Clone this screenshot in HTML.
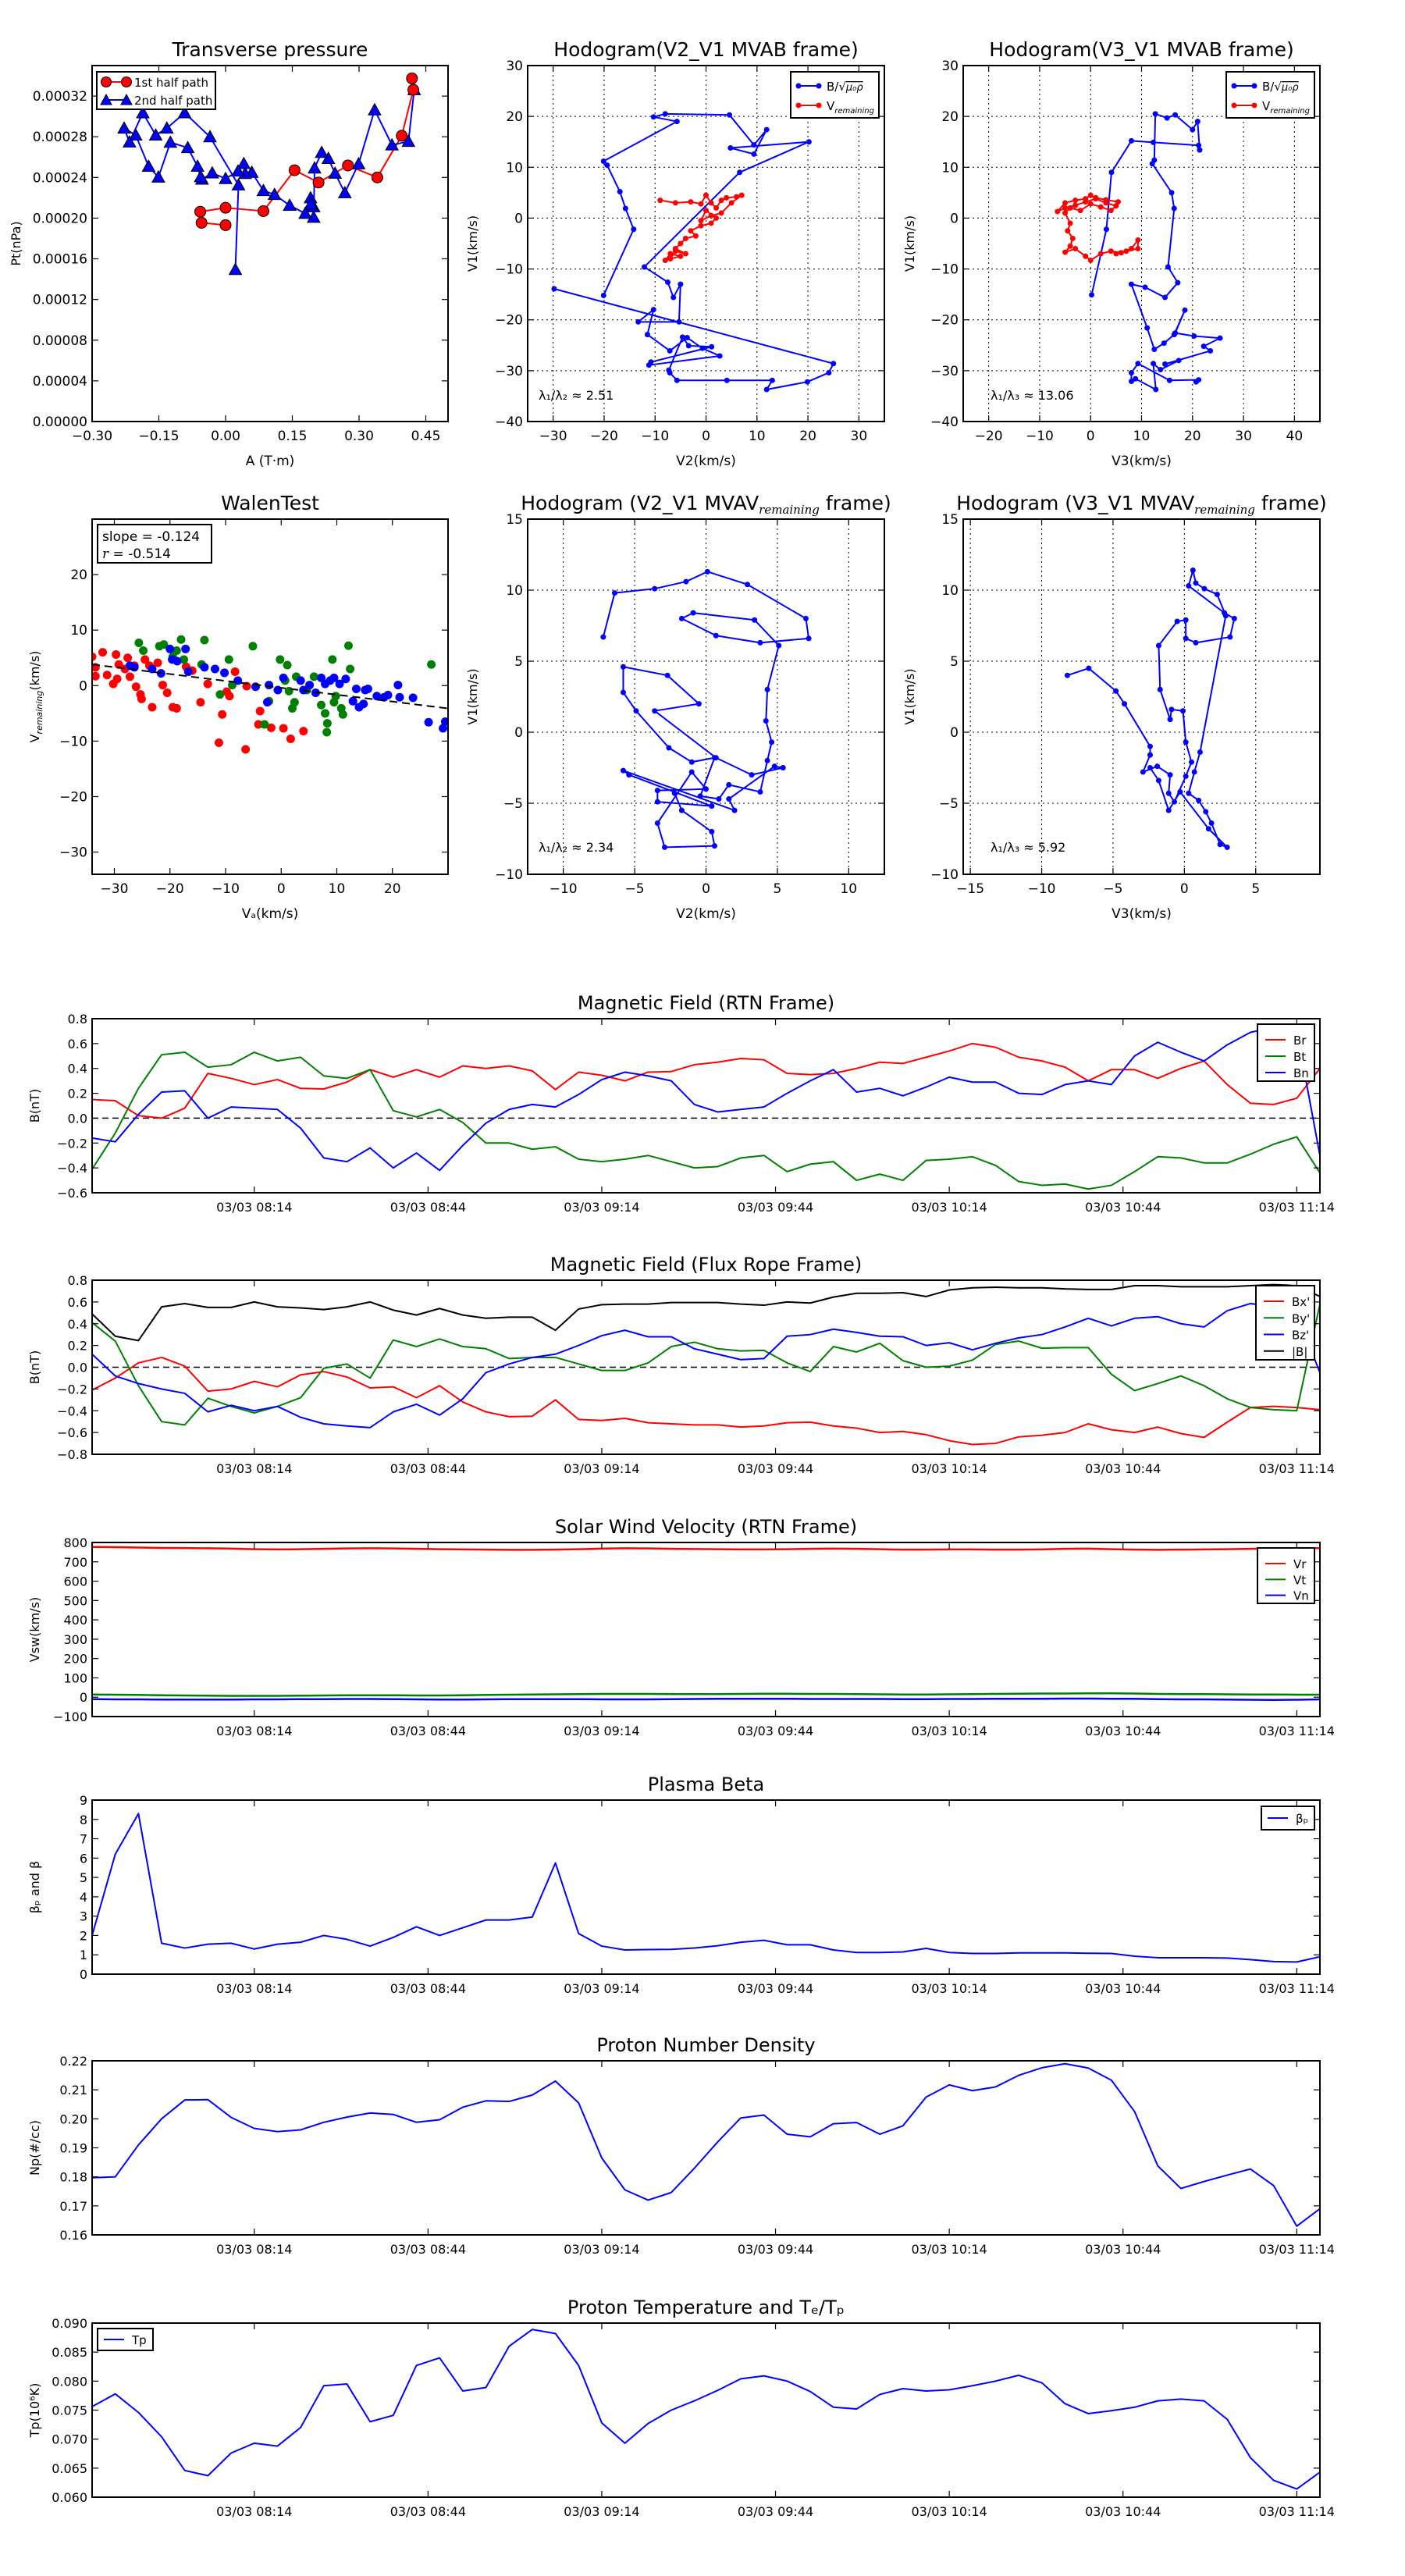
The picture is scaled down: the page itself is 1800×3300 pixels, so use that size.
<!DOCTYPE html>
<html><head><meta charset="utf-8"><style>
html,body{margin:0;padding:0;background:#fff;}
svg{display:block;font-family:"DejaVu Sans","Liberation Sans",sans-serif;}
</style></head><body>
<svg id="fig" xmlns="http://www.w3.org/2000/svg" width="1800" height="3300" viewBox="0 0 1800 3300"></svg>
<script>
// ---------- DATA ----------
const timeLabels=["03/03 08:14","03/03 08:44","03/03 09:14","03/03 09:44","03/03 10:14","03/03 10:44","03/03 11:14"];
const timeTickIdx=[7,14.5,22,29.5,37,44.5,52];
const Br=[0.15,0.14,0.02,0.0,0.08,0.36,0.32,0.27,0.31,0.24,0.235,0.29,0.39,0.33,0.39,0.33,0.42,0.40,0.42,0.38,0.23,0.37,0.345,0.30,0.37,0.375,0.43,0.45,0.48,0.47,0.36,0.35,0.36,0.40,0.45,0.44,0.49,0.54,0.60,0.57,0.49,0.46,0.41,0.30,0.39,0.39,0.32,0.40,0.46,0.27,0.12,0.11,0.16,0.40];
const Bt=[-0.41,-0.12,0.24,0.51,0.53,0.41,0.43,0.53,0.46,0.49,0.34,0.32,0.39,0.06,0.01,0.07,-0.035,-0.20,-0.20,-0.25,-0.23,-0.33,-0.35,-0.33,-0.30,-0.35,-0.40,-0.39,-0.32,-0.30,-0.43,-0.37,-0.35,-0.50,-0.45,-0.50,-0.34,-0.33,-0.31,-0.38,-0.51,-0.54,-0.53,-0.57,-0.54,-0.43,-0.31,-0.32,-0.36,-0.36,-0.29,-0.21,-0.15,-0.44];
const Bn=[-0.16,-0.19,0.03,0.21,0.22,0.0,0.09,0.08,0.07,-0.08,-0.32,-0.35,-0.24,-0.40,-0.28,-0.42,-0.22,-0.04,0.07,0.11,0.09,0.19,0.31,0.37,0.34,0.30,0.11,0.05,0.07,0.09,0.20,0.30,0.39,0.21,0.24,0.18,0.25,0.33,0.29,0.29,0.20,0.19,0.27,0.30,0.27,0.50,0.61,0.53,0.46,0.59,0.69,0.73,0.70,-0.30];
const Bx=[-0.21,-0.10,0.04,0.09,0.01,-0.22,-0.20,-0.13,-0.18,-0.07,-0.04,-0.09,-0.19,-0.18,-0.28,-0.17,-0.32,-0.41,-0.455,-0.45,-0.30,-0.48,-0.49,-0.47,-0.51,-0.52,-0.53,-0.53,-0.55,-0.54,-0.51,-0.505,-0.54,-0.56,-0.60,-0.59,-0.62,-0.675,-0.71,-0.70,-0.64,-0.625,-0.60,-0.52,-0.575,-0.60,-0.55,-0.61,-0.645,-0.505,-0.37,-0.36,-0.37,-0.39];
const By=[0.41,0.24,-0.17,-0.50,-0.53,-0.285,-0.36,-0.42,-0.36,-0.28,-0.01,0.03,-0.10,0.25,0.19,0.26,0.19,0.17,0.08,0.09,0.09,0.03,-0.03,-0.03,0.04,0.19,0.23,0.17,0.15,0.155,0.04,-0.04,0.19,0.14,0.22,0.06,0.0,0.01,0.065,0.21,0.24,0.175,0.18,0.18,-0.065,-0.215,-0.15,-0.08,-0.17,-0.29,-0.37,-0.39,-0.40,0.58];
const Bz=[0.12,-0.08,-0.15,-0.20,-0.24,-0.41,-0.35,-0.40,-0.36,-0.46,-0.52,-0.54,-0.555,-0.41,-0.34,-0.44,-0.29,-0.05,0.03,0.09,0.12,0.20,0.29,0.34,0.28,0.28,0.17,0.12,0.07,0.08,0.285,0.30,0.35,0.32,0.285,0.28,0.20,0.225,0.16,0.22,0.27,0.30,0.37,0.45,0.38,0.45,0.465,0.40,0.37,0.52,0.585,0.56,0.50,-0.05];
const Bmag=[0.49,0.285,0.245,0.555,0.585,0.55,0.55,0.60,0.555,0.545,0.53,0.555,0.60,0.525,0.48,0.54,0.48,0.45,0.46,0.46,0.34,0.535,0.575,0.58,0.58,0.595,0.595,0.595,0.58,0.57,0.60,0.59,0.645,0.68,0.68,0.685,0.65,0.71,0.73,0.735,0.73,0.73,0.72,0.715,0.715,0.75,0.75,0.74,0.74,0.74,0.75,0.76,0.75,0.65];
const Vr=[777,776,774,772,771,770,768,765,764,765,767,769,770,769,767,765,764,763,762,762,763,765,768,770,769,767,766,765,764,764,765,767,768,767,765,763,763,764,764,763,763,764,767,768,765,763,762,763,764,765,767,769,771,770];
const Vt=[14,13,12,10,9,8,7,7,7,8,9,10,10,10,9,9,10,12,13,14,15,16,17,17,17,16,16,16,17,18,18,17,17,16,15,14,14,15,16,17,18,19,19,20,20,19,17,16,16,15,14,14,13,13];
const Vn=[-10,-11,-11,-12,-12,-12,-12,-11,-11,-10,-10,-9,-9,-10,-11,-12,-12,-11,-10,-10,-10,-10,-11,-11,-11,-10,-9,-8,-8,-8,-8,-9,-9,-9,-9,-10,-10,-9,-9,-8,-8,-8,-7,-7,-8,-8,-10,-11,-11,-12,-13,-14,-13,-11];
const beta=[2.0,6.2,8.3,1.6,1.35,1.55,1.6,1.3,1.55,1.65,2.0,1.8,1.45,1.9,2.45,2.0,2.4,2.8,2.8,2.95,5.75,2.1,1.45,1.25,1.27,1.28,1.35,1.47,1.65,1.75,1.52,1.52,1.25,1.12,1.12,1.15,1.33,1.12,1.07,1.07,1.1,1.1,1.1,1.08,1.07,0.93,0.85,0.85,0.85,0.83,0.75,0.65,0.63,0.9];
const Np=[0.1797,0.180,0.191,0.200,0.2065,0.2066,0.2005,0.1967,0.1956,0.1962,0.1988,0.2006,0.202,0.2015,0.1988,0.1997,0.204,0.2062,0.206,0.2082,0.213,0.2055,0.1865,0.1755,0.172,0.1746,0.183,0.192,0.2003,0.2013,0.1947,0.1938,0.1983,0.1987,0.1947,0.1976,0.2075,0.2117,0.2097,0.211,0.215,0.2176,0.219,0.2175,0.2133,0.2025,0.1838,0.176,0.1784,0.1806,0.1827,0.177,0.163,0.169];
const Tp=[0.0756,0.0778,0.0746,0.0704,0.0646,0.0637,0.0676,0.0693,0.0688,0.0720,0.0792,0.0795,0.0730,0.0741,0.0827,0.0840,0.0783,0.0789,0.0860,0.0889,0.0882,0.0827,0.0728,0.0693,0.0727,0.0750,0.0766,0.0784,0.0804,0.0809,0.0800,0.0782,0.0755,0.0752,0.0777,0.0787,0.0783,0.0785,0.0792,0.0800,0.0810,0.0797,0.0761,0.0744,0.0749,0.0755,0.0766,0.0769,0.0766,0.0734,0.0668,0.0629,0.0614,0.0643];
// Transverse pressure (A in T·m, Pt in 1e-4 nPa)
const pt1A=[0.419,0.422,0.396,0.341,0.275,0.209,0.155,0.085,0.000,-0.057,-0.054,0.000];
const pt1P=[3.374,3.262,2.810,2.400,2.518,2.350,2.471,2.069,2.102,2.063,1.954,1.931];
const pt2A=[0.424,0.411,0.374,0.335,0.299,0.268,0.246,0.231,0.216,0.200,0.198,0.198,0.191,0.192,0.179,0.144,0.110,0.085,0.059,0.044,0.041,0.028,0.000,-0.030,-0.053,-0.056,-0.063,-0.085,-0.124,-0.151,-0.173,-0.202,-0.228,-0.216,-0.186,-0.157,-0.132,-0.092,-0.035,0.029,0.022];
const pt2P=[3.262,2.754,2.719,3.064,2.533,2.249,2.441,2.586,2.645,2.492,2.007,2.111,2.199,2.140,2.046,2.125,2.232,2.270,2.450,2.438,2.536,2.462,2.388,2.444,2.382,2.406,2.509,2.692,2.745,2.403,2.509,2.816,2.884,2.748,3.035,2.816,2.884,3.035,2.799,2.326,1.494];
// Hodogram V2-V1 MVAB
const h2Bx=[-20.1,-14.2,-15.8,-16.9,-19.4,-20.1,-5.7,-10.3,-8.0,4.6,9.4,11.9,9.4,4.8,20.2,6.6,-12.1,-7.5,-6.4,-5.0,-5.3,-13.3,-10.3,-11.5,-7.1,-3.7,-0.7,2.7,-11.2,-10.8,1.1,-3.4,-4.6,-7.3,-7.1,-5.7,4.1,13.0,11.9,19.9,24.1,25.0,-29.8];
const h2By=[-15.2,-2.2,1.9,5.2,10.4,11.2,19.0,19.9,20.5,20.3,14.4,17.4,12.6,13.8,15.0,9.0,-9.6,-12.6,-15.6,-13.0,-20.4,-20.4,-18.0,-22.9,-26.1,-23.5,-25.6,-27.1,-28.9,-28.3,-25.3,-25.1,-23.4,-29.9,-30.4,-31.9,-31.9,-31.9,-33.7,-32.2,-30.4,-28.6,-13.9];
const h2Vx=[-9,-6,-3,-1,0,1,2,3,4,6,7,5,3,1,-1,0,2,1,-1,-3,-2,-4,-5,-6,-4,-6,-7,-5,-7,-8];
const h2Vy=[3.5,3,3.2,2.8,4.5,3,2,3.5,4,4.2,4.5,3,1,0.5,-0.5,1.5,0,-1,-1.5,-2.5,-3.5,-4,-5,-6,-7,-6.5,-8,-7.5,-7,-8.3];
// Hodogram V3-V1 MVAB
const h3Bx=[0.2,3.1,4.1,8.0,12.3,21.2,21.4,21.0,20.0,16.6,15.0,12.7,12.5,12.1,15.9,16.4,15.2,17.1,14.6,10.7,8.0,11.1,12.5,14.4,16.4,18.5,16.6,20.3,25.4,22.2,23.5,14.6,17.3,13.7,12.3,12.8,8.8,8.0,8.0,9.3,15.5,21.2,20.7];
const h3By=[-15.1,-2.2,9.0,15.2,14.9,14.3,13.4,19.0,17.4,20.3,19.7,20.5,11.4,10.7,5.0,1.9,-9.6,-12.7,-15.6,-13.6,-13.0,-21.6,-25.8,-24.6,-22.9,-18.1,-22.6,-23.2,-23.6,-25.2,-26.1,-28.7,-28.0,-29.8,-28.6,-33.7,-31.6,-32.1,-30.4,-28.6,-31.9,-31.8,-32.2];
const h3Vx=[5.4,3,1,0,-1,-3,-5,-6.5,-5,-3,-1,1,3,5,4,2,0,-2,-4,-5,-4,-4.5,-3.5,-4,-5,-3,-1,0,2,4,6,8,9.3,9.3,7,5];
const h3Vy=[3.2,3.6,4.0,4.5,3.8,3.5,3.0,1.3,2.0,2.5,3.2,3.8,3.0,2.4,1.5,2.2,2.8,1.5,2.0,1.0,-1.0,-2.5,-4.0,-5.5,-6.7,-6.0,-7.5,-8.3,-7.0,-6.5,-6.8,-6.0,-4.3,-6.0,-6.5,-7.0];
// Walen test
const walenSlope=-0.124, walenIntercept=-0.4;
const wRx=[-34.0,-33.4,-33.4,-32.1,-31.3,-30.2,-29.7,-29.5,-29.2,-28.1,-27.6,-27.2,-26.4,-26.1,-25.3,-25.1,-24.5,-23.7,-23.2,-22.2,-21.3,-20.5,-19.5,-18.8,-17.1,-16.0,-14.5,-13.2,-11.2,-10.6,-9.8,-9.3,-8.3,-6.4,-6.2,-3.8,-4.1,-1.8,0.4,1.7,4.0];
const wRy=[5.2,3.3,1.7,6.0,1.9,0.3,5.6,1.2,3.8,3.0,5.0,1.6,3.6,-0.2,-1.6,-2.4,4.7,3.6,-3.9,4.1,0.1,-1.3,-3.9,-4.1,3.4,2.7,-3.0,0.3,-10.3,-5.2,-1.1,-1.9,2.5,-11.5,-0.1,-4.6,-7.0,-7.6,-7.7,-9.6,-8.2];
const wGx=[-25.6,-24.8,-21.9,-21.1,-19.5,-18.8,-18.0,-17.5,-13.8,-14.3,-11.0,-9.4,-8.8,-5.1,-3.0,-2.2,-0.2,0.7,1.1,1.4,2.0,2.4,2.7,4.6,5.9,7.2,7.9,8.2,8.3,9.2,9.5,9.8,10.8,11.1,12.1,12.4,27.0];
const wGy=[7.7,6.3,7.1,7.4,5.2,6.3,8.3,4.7,8.2,3.8,-1.6,4.7,0.1,7.1,-7.0,-2.8,4.7,0.9,3.7,-1.0,-4.1,-3.0,1.6,-0.8,1.6,-3.5,-5.0,-8.4,-6.8,4.7,-3.0,-1.9,-4.1,-5.2,7.2,3.0,3.8];
const wBx=[-27.2,-26.4,-23.2,-21.6,-20.0,-19.6,-18.7,-17.2,-16.7,-13.8,-11.9,-10.2,-7.8,-4.6,-2.5,-2.2,-0.6,0.4,3.5,4.0,5.1,6.2,7.2,7.9,8.8,9.5,10.5,11.6,12.9,13.5,14.0,14.8,15.1,15.6,17.2,18.5,19.2,21.0,21.3,23.7,26.5,29.1,29.5];
const wBy=[3.6,3.3,3.0,2.2,6.6,4.7,4.4,6.6,2.5,3.3,3.0,2.3,0.9,-0.2,-3.0,0.1,-0.8,1.4,0.9,-0.8,0.1,-1.3,1.4,0.3,0.9,1.4,0.3,1.2,-2.8,-0.6,-3.9,-3.3,-0.8,-0.6,-1.9,-2.1,-1.7,0.1,-2.1,-2.2,-6.6,-7.7,-6.5];
// MVAV remaining hodograms
const m2x=[-7.2,-6.4,-3.6,-1.4,0.1,2.9,7.0,7.2,3.8,0.7,-1.7,-0.9,3.4,5.1,4.3,4.2,4.6,4.3,3.8,1.6,0.9,-0.4,0.6,-1.0,-2.6,-4.9,-5.8,-5.8,-2.7,-0.5,-3.6,0.7,3.2,5.4,4.8,1.6,2.0,-5.8,-5.4,0.4,-3.4,-3.4,0.0,-1.0,-3.4,-2.9,0.6,0.4,-1.7,-2.2];
const m2y=[6.7,9.8,10.1,10.6,11.3,10.4,8.0,6.6,6.3,6.8,8.0,8.4,7.9,6.1,3.0,0.8,-0.7,-2.0,-4.2,-3.7,-4.7,-4.5,-1.8,-2.1,-1.1,1.5,2.8,4.6,4.0,2.0,1.5,-1.8,-3.0,-2.5,-2.4,-4.7,-5.5,-2.7,-3.0,-5.2,-4.9,-4.1,-4.0,-2.8,-6.4,-8.1,-8.0,-7.0,-5.5,-4.3];
const m3x=[-8.2,-6.7,-4.8,-4.2,-2.4,-2.4,-2.9,-1.9,-1.0,-1.1,-0.7,0.1,0.5,0.1,-0.1,-0.9,-1.0,-1.7,-1.8,-0.5,0.1,0.1,0.8,3.2,3.5,2.8,0.3,0.6,0.8,1.4,2.3,2.9,1.1,0.7,0.3,1.0,1.5,1.9,2.5,3.0,1.7,-0.3,-1.1,-1.8,-2.4];
const m3y=[4.0,4.5,2.9,2.0,-1.0,-1.6,-2.8,-2.4,-3.0,-4.3,-4.9,-3.1,-2.1,-0.7,1.5,1.6,0.9,3.0,6.1,7.8,7.9,6.6,6.3,6.7,8.0,8.4,10.3,11.4,10.5,10.1,9.7,8.2,-1.4,-2.8,-4.3,-4.8,-5.6,-6.4,-7.9,-8.1,-6.8,-4.2,-5.5,-3.4,-2.5];

// ---------- DRAWING ----------
const NS="http://www.w3.org/2000/svg";
const svg=document.getElementById('fig');
function mk(tag,parent){const e=document.createElementNS(NS,tag);(parent||svg).appendChild(e);return e;}
function attrs(e,o){for(const k in o)e.setAttribute(k,o[k]);return e;}
function txt(parent,x,y,s,size,anchor,extra){const t=mk('text',parent);attrs(t,{x:x,y:y,'font-size':size,'text-anchor':anchor||'middle',fill:'#000'});if(extra)attrs(t,extra);t.textContent=s;return t;}

function axes(o){
  const g=mk('g');
  
  
  const sx=v=>o.x+(v-o.xmin)/(o.xmax-o.xmin)*o.w;
  const sy=v=>o.y+o.h-(v-o.ymin)/(o.ymax-o.ymin)*o.h;
  const gg=mk('g',g);
  
  
  if(o.grid){
    o.xticks.forEach(v=>{const l=mk('line',gg);attrs(l,{x1:sx(v),x2:sx(v),y1:o.y,y2:o.y+o.h,stroke:'#000','stroke-width':1,'stroke-dasharray':'2,4'});});
    o.yticks.forEach(v=>{const l=mk('line',gg);attrs(l,{x1:o.x,x2:o.x+o.w,y1:sy(v),y2:sy(v),stroke:'#000','stroke-width':1,'stroke-dasharray':'2,4'});});
  }
  const plot=mk('g',g);
  
  
  const cp='clip-'+o.name;
  const cl=mk('clipPath',g);cl.setAttribute('id',cp);
  const cr=mk('rect',cl);attrs(cr,{x:o.x,y:o.y,width:o.w,height:o.h});
  plot.setAttribute('clip-path','url(#'+cp+')');
  const xa=mk('g',g);
  
  
  o.xticks.forEach((v,i)=>{
    const X=sx(v);
    const a=mk('line',xa);attrs(a,{x1:X,x2:X,y1:o.y+o.h,y2:o.y+o.h-8,stroke:'#000','stroke-width':1.2});
    const b=mk('line',xa);attrs(b,{x1:X,x2:X,y1:o.y,y2:o.y+8,stroke:'#000','stroke-width':1.2});
    const lab=o.xlabels?o.xlabels[i]:o.xfmt(v);
    const t=txt(xa,X,o.y+o.h+24,lab,o.tf||17);
    
  });
  const ya=mk('g',g);
  
  
  o.yticks.forEach(v=>{
    const Y=sy(v);
    const a=mk('line',ya);attrs(a,{x1:o.x,x2:o.x+8,y1:Y,y2:Y,stroke:'#000','stroke-width':1.2});
    const b=mk('line',ya);attrs(b,{x1:o.x+o.w,x2:o.x+o.w-8,y1:Y,y2:Y,stroke:'#000','stroke-width':1.2});
    const t=txt(ya,o.x-6,Y+6,o.yfmt(v),o.tf||17,'end');
    
  });
  const fr=mk('rect',g);attrs(fr,{x:o.x,y:o.y,width:o.w,height:o.h,fill:'none',stroke:'#000','stroke-width':2});
  
  
  if(o.title){const t=txt(g,o.x+o.w/2,o.y-12,o.title,o.titleSize||25);
    
    
    if(o.titleSub){const ts=mk('tspan',t);attrs(ts,{'font-size':15,'font-style':'italic',dy:5,'font-family':'DejaVu Serif, serif'});ts.textContent=o.titleSub;const t2=mk('tspan',t);attrs(t2,{dy:-5});t2.textContent=o.titleEnd;}
  }
  if(o.xlabel){const t=txt(g,o.x+o.w/2,o.y+o.h+56,o.xlabel,17);
    
    }
  if(o.ylabel){const yx=o.ylx, yy=o.y+o.h/2;const t=txt(g,yx,yy,o.ylabel,16,'middle',{transform:'rotate(-90 '+yx+' '+yy+')'});
    
    
    if(o.ylabelSub){const ts=mk('tspan',t);attrs(ts,{'font-size':11,'font-style':'italic',dy:4});ts.textContent=o.ylabelSub;const t2=mk('tspan',t);attrs(t2,{dy:-4});t2.textContent=o.ylabelEnd;}}
  return {sx,sy,plot,g};
}
function line(ax,xs,ys,color,w,name){
  const p=mk('polyline',ax.plot);
  
  
  attrs(p,{points:xs.map((x,i)=>ax.sx(x)+','+ax.sy(ys[i])).join(' '),fill:'none',stroke:color,'stroke-width':w||2,'stroke-linejoin':'round'});
  return p;
}
function dots(ax,xs,ys,color,r,name,stroke){
  xs.forEach((x,i)=>{const c=mk('circle',ax.plot);
    
    
    attrs(c,{cx:ax.sx(x),cy:ax.sy(ys[i]),r:r,fill:color});
    if(stroke)attrs(c,{stroke:'#000','stroke-width':1});});
}
function tris(ax,xs,ys,color,s,name){
  xs.forEach((x,i)=>{const X=ax.sx(x),Y=ax.sy(ys[i]);const p=mk('polygon',ax.plot);
    
    
    attrs(p,{points:`${X},${Y-s} ${X-s},${Y+s*0.8} ${X+s},${Y+s*0.8}`,fill:color,stroke:'#000','stroke-width':1});});
}
function legendBox(x,y,w,h,name){
  const g=mk('g');
  
  
  const r=mk('rect',g);attrs(r,{x:x,y:y,width:w,height:h,fill:'#fff',stroke:'#000','stroke-width':2});
  return g;
}
function legendEntry(g,x,y,color,label,marker){
  const e=mk('g',g);
  
  
  const l=mk('line',e);attrs(l,{x1:x,x2:x+26,y1:y,y2:y,stroke:color,'stroke-width':2});
  if(marker==='dot'){[x,x+26].forEach(cx=>{const c=mk('circle',e);attrs(c,{cx:cx,cy:y,r:3.5,fill:color});});}
  if(marker==='bigdot'){[x,x+26].forEach(cx=>{const c=mk('circle',e);attrs(c,{cx:cx,cy:y,r:6.5,fill:color,stroke:'#000','stroke-width':1});});}
  if(marker==='tri'){[x,x+26].forEach(cx=>{const p=mk('polygon',e);attrs(p,{points:`${cx},${y-7} ${cx-7},${y+6} ${cx+7},${y+6}`,fill:color,stroke:'#000','stroke-width':1});});}
  const t=txt(e,x+36,y+6,label,15,'start');
  return t;
}
const f=d=>v=>v.toFixed(d);
const fi=v=>(v<0?'\u2212':'')+Math.abs(v).toFixed(0);
const fm=d=>v=>(v<0?'\u2212':'')+Math.abs(v).toFixed(d);

// ---- Transverse pressure ----
let ax=axes({name:'transverse-pressure',x:118,y:84,w:456,h:456,xmin:-0.3,xmax:0.5,ymin:0,ymax:3.5,
  xticks:[-0.3,-0.15,0,0.15,0.3,0.45],yticks:[0,0.4,0.8,1.2,1.6,2.0,2.4,2.8,3.2],xfmt:fm(2),yfmt:v=>(v*1e-4).toFixed(5),
  title:'Transverse pressure',xlabel:'A (T\u00b7m)',ylabel:'Pt(nPa)',ylx:26});
line(ax,pt1A,pt1P,'#f00',2,'first-half-path-line');
line(ax,pt2A,pt2P,'#00f',2,'second-half-path-line');
tris(ax,pt2A,pt2P,'#00f',8,'second-half-marker');
dots(ax,pt1A,pt1P,'#f00',7,'first-half-marker',true);
let lg=legendBox(124,92,152,48,'transverse-pressure-legend');
legendEntry(lg,136,105,'#f00','1st half path','bigdot');
legendEntry(lg,136,128,'#00f','2nd half path','tri');

// ---- Hodogram V2 V1 MVAB ----
function sqrtLegend(x,y,name){
  const g=legendBox(x,y,113,59,name);
  const t1=legendEntry(g,x+10,y+18,'#00f','B/\u221a','dot');
  const s=mk('tspan',t1);attrs(s,{'font-style':'italic','font-size':13,'text-decoration':'overline'});s.textContent='\u03bc\u2080\u03c1';
  const t2=legendEntry(g,x+10,y+43,'#f00','V','dot');
  const s2=mk('tspan',t2);attrs(s2,{'font-style':'italic','font-size':10,dy:4});s2.textContent='remaining';
}
ax=axes({name:'hodogram-v2-v1-mvab',x:676,y:84,w:457,h:456,xmin:-35,xmax:35,ymin:-40,ymax:30,grid:true,
  xticks:[-30,-20,-10,0,10,20,30],yticks:[-40,-30,-20,-10,0,10,20,30],xfmt:fi,yfmt:fi,
  title:'Hodogram(V2_V1 MVAB frame)',xlabel:'V2(km/s)',ylabel:'V1(km/s)',ylx:611});
line(ax,h2Bx,h2By,'#00f',2,'b-hodogram-line');dots(ax,h2Bx,h2By,'#00f',3.5,'b-hodogram-point');
line(ax,h2Vx,h2Vy,'#f00',2,'v-remaining-line');dots(ax,h2Vx,h2Vy,'#f00',3.5,'v-remaining-point');
sqrtLegend(1013,92,'hodogram-v2-legend');
let t=txt(svg,690,512,'\u03bb\u2081/\u03bb\u2082 \u2248 2.51',16,'start');

// ---- Hodogram V3 V1 MVAB ----
ax=axes({name:'hodogram-v3-v1-mvab',x:1234,y:84,w:457,h:456,xmin:-25,xmax:45,ymin:-40,ymax:30,grid:true,
  xticks:[-20,-10,0,10,20,30,40],yticks:[-40,-30,-20,-10,0,10,20,30],xfmt:fi,yfmt:fi,
  title:'Hodogram(V3_V1 MVAB frame)',xlabel:'V3(km/s)',ylabel:'V1(km/s)',ylx:1171});
line(ax,h3Bx,h3By,'#00f',2,'b-hodogram-line');dots(ax,h3Bx,h3By,'#00f',3.5,'b-hodogram-point');
line(ax,h3Vx,h3Vy,'#f00',2,'v-remaining-line');dots(ax,h3Vx,h3Vy,'#f00',3.5,'v-remaining-point');
sqrtLegend(1571,92,'hodogram-v3-legend');
t=txt(svg,1269,512,'\u03bb\u2081/\u03bb\u2083 \u2248 13.06',16,'start');

// ---- Walen test ----
ax=axes({name:'walen-test',x:118,y:665,w:456,h:455,xmin:-34,xmax:30,ymin:-34,ymax:30,
  xticks:[-30,-20,-10,0,10,20],yticks:[-30,-20,-10,0,10,20],xfmt:fi,yfmt:fi,
  title:'WalenTest',xlabel:'V\u2090(km/s)',ylabel:'V',ylabelSub:'remaining',ylabelEnd:'(km/s)',ylx:50});
dots(ax,wRx,wRy,'#f00',5.5,'walen-point-red');
dots(ax,wGx,wGy,'#008000',5.5,'walen-point-green');
dots(ax,wBx,wBy,'#00f',5.5,'walen-point-blue');
const fitX=[-34,30];
const fl=line(ax,fitX,fitX.map(x=>walenSlope*x+walenIntercept),'#000',2,'walen-fit-line');fl.setAttribute('stroke-dasharray','10,6');
lg=legendBox(125,672,146,49,'walen-stats-box');
t=txt(lg,131,693,'slope = -0.124',17,'start');
t=txt(lg,131,715,'',17,'start');
let ts=mk('tspan',t);attrs(ts,{'font-style':'italic','font-family':'DejaVu Serif, serif'});ts.textContent='r';
ts=mk('tspan',t);ts.textContent=' = -0.514';

// ---- MVAV hodograms ----
ax=axes({name:'hodogram-v2-v1-mvav',x:676,y:665,w:457,h:455,xmin:-12.5,xmax:12.5,ymin:-10,ymax:15,grid:true,
  xticks:[-10,-5,0,5,10],yticks:[-10,-5,0,5,10,15],xfmt:fi,yfmt:fi,
  title:'Hodogram (V2_V1 MVAV',titleSub:'remaining',titleEnd:' frame)',xlabel:'V2(km/s)',ylabel:'V1(km/s)',ylx:611});
line(ax,m2x,m2y,'#00f',2,'mvav-hodogram-line');dots(ax,m2x,m2y,'#00f',3.5,'mvav-hodogram-point');
t=txt(svg,690,1091,'\u03bb\u2081/\u03bb\u2082 \u2248 2.34',16,'start');
ax=axes({name:'hodogram-v3-v1-mvav',x:1234,y:665,w:457,h:455,xmin:-15.5,xmax:9.5,ymin:-10,ymax:15,grid:true,
  xticks:[-15,-10,-5,0,5],yticks:[-10,-5,0,5,10,15],xfmt:fi,yfmt:fi,
  title:'Hodogram (V3_V1 MVAV',titleSub:'remaining',titleEnd:' frame)',xlabel:'V3(km/s)',ylabel:'V1(km/s)',ylx:1171});
line(ax,m3x,m3y,'#00f',2,'mvav-hodogram-line');dots(ax,m3x,m3y,'#00f',3.5,'mvav-hodogram-point');
t=txt(svg,1269,1091,'\u03bb\u2081/\u03bb\u2083 \u2248 5.92',16,'start');

// ---- Time series ----
const idx=Br.map((_,i)=>i);
function ts_axes(name,y,ymin,ymax,yticks,yfmt,title,ylabel){
  return axes({name:name,x:118,y:y,w:1573,h:223,xmin:0,xmax:53,ymin:ymin,ymax:ymax,xticks:timeTickIdx,xlabels:timeLabels,
    yticks:yticks,yfmt:yfmt,title:title,ylabel:ylabel,ylx:50,tf:16,titleSize:24});
}
function zeroLine(a,name){const l=line(a,[0,53],[0,0],'#000',1.5,name);l.setAttribute('stroke-dasharray','8,5');}
function tsLegend(x,y,w,h,name,items){
  const g=legendBox(x,y,w,h,name);
  items.forEach((it,i)=>legendEntry(g,x+10,y+20+i*(h-10)/items.length,it[0],it[1]));
}
ax=ts_axes('magnetic-field-rtn',1305,-0.6,0.8,[-0.6,-0.4,-0.2,0,0.2,0.4,0.6,0.8],fm(1),'Magnetic Field (RTN Frame)','B(nT)');
zeroLine(ax,'zero-reference-line');
line(ax,idx,Br,'#f00',2,'br-line');line(ax,idx,Bt,'#008000',2,'bt-line');line(ax,idx,Bn,'#00f',2,'bn-line');
tsLegend(1611,1312,73,73,'rtn-legend',[['#f00','Br'],['#008000','Bt'],['#00f','Bn']]);

ax=ts_axes('magnetic-field-flux-rope',1640,-0.8,0.8,[-0.8,-0.6,-0.4,-0.2,0,0.2,0.4,0.6,0.8],fm(1),'Magnetic Field (Flux Rope Frame)','B(nT)');
zeroLine(ax,'zero-reference-line');
line(ax,idx,Bx,'#f00',2,'bx-line');line(ax,idx,By,'#008000',2,'by-line');line(ax,idx,Bz,'#00f',2,'bz-line');line(ax,idx,Bmag,'#000',2,'bmag-line');
tsLegend(1609,1647,75,95,'flux-rope-legend',[['#f00',"Bx'"],['#008000',"By'"],['#00f',"Bz'"],['#000','|B|']]);

ax=ts_axes('solar-wind-velocity',1976,-100,800,[-100,0,100,200,300,400,500,600,700,800],fi,'Solar Wind Velocity (RTN Frame)','Vsw(km/s)');
line(ax,idx,Vr,'#f00',2.5,'vr-line');line(ax,idx,Vt,'#008000',2.5,'vt-line');line(ax,idx,Vn,'#00f',2.5,'vn-line');
tsLegend(1611,1983,73,71,'velocity-legend',[['#f00','Vr'],['#008000','Vt'],['#00f','Vn']]);

ax=ts_axes('plasma-beta',2306,0,9,[0,1,2,3,4,5,6,7,8,9],fi,'Plasma Beta','\u03b2\u209a and \u03b2');
line(ax,idx,beta,'#00f',2,'beta-line');
lg=legendBox(1616,2314,68,30,'beta-legend');legendEntry(lg,1624,2329,'#00f','\u03b2\u209a');

ax=ts_axes('proton-number-density',2640,0.16,0.22,[0.16,0.17,0.18,0.19,0.20,0.21,0.22],f(2),'Proton Number Density','Np(#/cc)');
line(ax,idx,Np,'#00f',2,'np-line');

ax=ts_axes('proton-temperature',2976,0.06,0.09,[0.060,0.065,0.070,0.075,0.080,0.085,0.090],f(3),'Proton Temperature and Tₑ/Tₚ','Tp(10\u2076K)');
line(ax,idx,Tp,'#00f',2,'tp-line');
lg=legendBox(125,2983,71,28,'tp-legend');legendEntry(lg,133,2997,'#00f','Tp');
</script>
</body></html>
